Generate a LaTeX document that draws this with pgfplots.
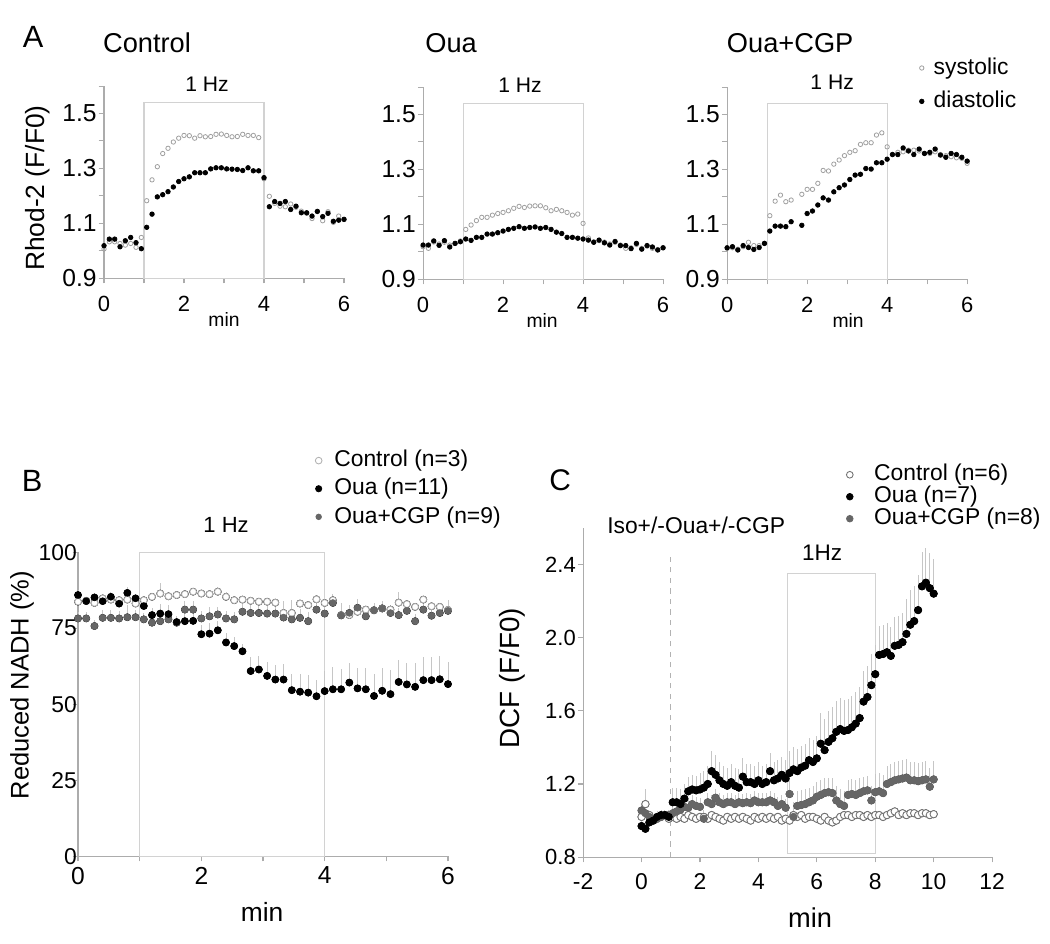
\documentclass[border=0pt]{standalone}
\usepackage{pgfplots}
\pgfplotsset{compat=1.18}
\usepackage{pgfplotstable}
\usepackage{fontspec}
\setmainfont{Liberation Sans}

\newcommand{\fs}[1]{\fontsize{#1}{#1}\selectfont}

% panel A: t, diastolic, systolic
\pgfplotstableread{
t dia sys
0.000 1.018 1.006
0.133 1.042 1.032
0.267 1.042 1.032
0.400 1.014 1.026
0.533 1.036 1.020
0.667 1.048 1.026
0.800 1.029 1.012
0.933 1.007 1.048
1.067 1.085 1.182
1.200 1.133 1.258
1.333 1.196 1.306
1.467 1.204 1.354
1.600 1.215 1.373
1.733 1.232 1.396
1.867 1.252 1.410
2.000 1.262 1.420
2.133 1.269 1.419
2.267 1.284 1.410
2.400 1.284 1.419
2.533 1.284 1.415
2.667 1.298 1.416
2.800 1.302 1.424
2.933 1.302 1.425
3.067 1.298 1.420
3.200 1.297 1.415
3.333 1.296 1.416
3.467 1.292 1.424
3.600 1.302 1.420
3.733 1.291 1.420
3.867 1.291 1.412
4.000 1.266 1.262
4.133 1.160 1.198
4.267 1.179 1.172
4.400 1.172 1.162
4.533 1.179 1.160
4.667 1.150 1.170
4.800 1.162 1.158
4.933 1.138 1.144
5.067 1.138 1.136
5.200 1.126 1.117
5.333 1.143 1.143
5.467 1.124 1.109
5.600 1.136 1.142
5.733 1.107 1.103
5.867 1.111 1.126
6.000 1.114 1.114
}\tabActl

\pgfplotstableread{
t dia sys
0.000 1.024 1.018
0.133 1.024 1.012
0.267 1.039 1.035
0.400 1.023 1.028
0.533 1.040 1.034
0.667 1.017 1.024
0.800 1.030 1.030
0.933 1.036 1.039
1.067 1.046 1.081
1.200 1.041 1.097
1.333 1.052 1.113
1.467 1.052 1.125
1.600 1.064 1.125
1.733 1.064 1.133
1.867 1.069 1.139
2.000 1.075 1.143
2.133 1.081 1.149
2.267 1.085 1.158
2.400 1.091 1.165
2.533 1.085 1.161
2.667 1.088 1.166
2.800 1.090 1.167
2.933 1.085 1.167
3.067 1.088 1.160
3.200 1.081 1.149
3.333 1.071 1.154
3.467 1.066 1.149
3.600 1.052 1.143
3.733 1.052 1.133
3.867 1.049 1.137
4.000 1.046 1.103
4.133 1.042 1.050
4.267 1.034 1.036
4.400 1.042 1.040
4.533 1.032 1.035
4.667 1.024 1.028
4.800 1.037 1.034
4.933 1.022 1.024
5.067 1.022 1.012
5.200 1.011 1.014
5.333 1.030 1.026
5.467 1.009 1.012
5.600 1.022 1.020
5.733 1.017 1.012
5.867 1.006 1.008
6.000 1.014 1.014
}\tabAoua

\pgfplotstableread{
t dia sys
0.000 1.014 1.012
0.133 1.018 1.014
0.267 1.006 1.009
0.400 1.022 1.018
0.533 1.015 1.034
0.667 1.008 1.022
0.800 1.015 1.022
0.933 1.030 1.030
1.067 1.075 1.131
1.200 1.093 1.184
1.333 1.093 1.206
1.467 1.091 1.182
1.600 1.109 1.188
1.867 1.096 1.209
2.000 1.139 1.227
2.133 1.148 1.227
2.267 1.170 1.249
2.400 1.196 1.296
2.533 1.188 1.294
2.667 1.218 1.319
2.800 1.233 1.334
2.933 1.243 1.350
3.067 1.263 1.362
3.200 1.279 1.368
3.333 1.282 1.391
3.467 1.303 1.397
3.600 1.301 1.397
3.733 1.324 1.425
3.867 1.324 1.433
4.000 1.337 1.382
4.133 1.354 1.354
4.267 1.354 1.362
4.400 1.378 1.364
4.533 1.367 1.370
4.667 1.354 1.370
4.800 1.374 1.367
4.933 1.358 1.358
5.067 1.362 1.358
5.200 1.374 1.364
5.333 1.352 1.354
5.467 1.344 1.350
5.600 1.358 1.346
5.733 1.354 1.342
5.867 1.344 1.340
6.000 1.330 1.322
}\tabAcgp

% panel B: reduced NADH (%), mean and upper error
\pgfplotstableread{
t ctl ce oua oe cgp ge
0.000 83.7 1.5 85.9 1.5 78.2 2.2
0.133 84.0 1.0 83.9 1.5 78.2 2.2
0.267 83.3 1.5 85.1 1.5 75.7 2.0
0.400 84.8 1.0 83.9 1.5 78.4 2.5
0.533 84.4 1.0 85.3 1.5 78.4 2.5
0.667 84.2 1.0 83.1 1.5 78.2 2.5
0.800 84.4 1.5 86.6 2.0 78.6 4.0
0.933 83.1 1.5 84.8 1.5 78.6 2.5
1.067 84.2 1.0 82.3 1.5 77.9 2.0
1.200 85.3 1.0 79.3 2.5 76.8 2.5
1.333 86.4 3.3 79.8 3.0 77.3 2.5
1.467 85.5 1.0 79.6 3.0 77.9 2.5
1.600 85.9 1.0 77.0 2.0 76.8 2.0
1.733 86.2 1.0 77.3 2.5 81.1 3.0
1.867 87.0 1.0 77.4 2.5 81.1 3.0
2.000 86.4 1.0 73.0 3.0 78.2 2.5
2.133 86.2 1.0 73.2 3.5 78.9 3.0
2.267 87.0 1.5 74.3 3.0 79.5 2.5
2.400 85.3 1.5 70.3 3.0 78.2 2.5
2.533 84.2 1.0 69.1 3.0 77.9 2.5
2.667 84.4 1.0 67.4 2.5 80.4 2.5
2.800 84.0 1.0 60.9 4.7 80.0 2.5
2.933 83.7 1.0 61.4 4.6 80.0 2.5
3.067 83.7 1.0 59.3 4.6 79.8 2.5
3.200 83.4 1.0 58.1 4.7 79.8 2.5
3.333 80.0 1.0 58.1 5.0 78.5 5.4
3.467 80.0 1.0 54.6 5.2 77.9 6.3
3.600 83.1 1.0 54.1 5.7 78.4 3.0
3.733 82.6 1.0 53.8 5.9 77.3 3.0
3.867 84.5 1.0 52.6 5.5 81.1 2.5
4.000 83.3 1.0 54.3 6.6 79.8 2.5
4.133 84.2 2.0 54.9 7.3 83.3 3.0
4.267 79.3 1.0 54.9 6.8 79.2 4.0
4.400 79.3 1.0 57.1 6.6 80.0 2.5
4.533 80.4 1.0 55.2 6.8 81.7 3.0
4.667 81.1 1.0 54.9 7.0 78.9 2.5
4.800 80.9 1.0 52.7 7.3 80.9 2.5
4.933 81.5 1.0 54.4 7.6 81.5 2.5
5.067 81.1 1.0 53.3 7.9 80.0 2.5
5.200 83.4 3.5 57.3 7.1 79.3 2.5
5.333 82.9 1.5 56.5 7.0 80.7 2.5
5.467 82.0 1.0 55.7 7.7 77.3 2.5
5.600 84.4 1.0 57.9 7.7 81.1 2.5
5.733 82.2 1.0 57.9 7.7 79.1 2.5
5.867 82.0 1.0 58.2 7.7 80.0 2.5
6.000 81.0 1.0 56.6 7.3 80.7 3.5
}\tabB

% panel C: DCF (F/F0), mean and upper error
\pgfplotstableread{
t ctl ce oua oe cgp ge
0.000 1.02 0.02 0.97 0.03 1.055 0.03
0.133 1.09 0.08 0.955 0.03 1.04 0.03
0.267 1.03 0.02 0.99 0.03 1.02 0.03
0.400 1.00 0.02 1.00 0.03 1.00 0.03
0.533 1.01 0.02 1.02 0.03 1.01 0.03
0.667 1.02 0.02 1.03 0.03 1.02 0.03
0.800 1.03 0.02 1.03 0.03 1.03 0.03
0.933 1.01 0.02 1.02 0.03 1.03 0.03
1.067 1.02 0.02 1.10 0.08 1.04 0.05
1.200 1.01 0.02 1.10 0.08 1.05 0.05
1.333 1.02 0.02 1.09 0.08 1.06 0.05
1.467 1.01 0.02 1.12 0.08 1.075 0.05
1.600 1.03 0.02 1.16 0.08 1.07 0.05
1.733 1.02 0.02 1.17 0.08 1.09 0.05
1.867 1.01 0.02 1.165 0.08 1.08 0.05
2.000 1.02 0.02 1.17 0.09 1.075 0.05
2.133 1.02 0.02 1.18 0.09 1.01 0.05
2.267 1.01 0.02 1.20 0.10 1.10 0.05
2.400 1.03 0.02 1.27 0.11 1.09 0.05
2.533 1.02 0.02 1.25 0.11 1.125 0.05
2.667 1.01 0.02 1.22 0.10 1.10 0.05
2.800 1.00 0.02 1.20 0.10 1.09 0.05
2.933 1.02 0.02 1.19 0.10 1.10 0.05
3.067 1.01 0.02 1.21 0.10 1.10 0.05
3.200 1.02 0.02 1.19 0.10 1.09 0.05
3.333 1.01 0.02 1.18 0.10 1.10 0.05
3.467 1.02 0.02 1.24 0.10 1.095 0.05
3.600 1.01 0.02 1.21 0.10 1.10 0.05
3.733 1.00 0.02 1.21 0.10 1.095 0.05
3.867 1.02 0.02 1.20 0.10 1.11 0.05
4.000 1.01 0.02 1.22 0.10 1.10 0.05
4.133 1.02 0.02 1.20 0.10 1.10 0.05
4.267 1.01 0.02 1.21 0.10 1.10 0.05
4.400 1.02 0.02 1.27 0.10 1.11 0.05
4.533 1.01 0.02 1.22 0.10 1.10 0.05
4.667 1.02 0.02 1.23 0.10 1.08 0.05
4.800 1.00 0.02 1.25 0.10 1.09 0.05
4.933 1.01 0.02 1.23 0.10 1.07 0.05
5.067 1.00 0.02 1.26 0.12 1.145 0.08
5.200 1.03 0.02 1.28 0.12 1.02 0.08
5.333 1.02 0.02 1.27 0.12 1.08 0.08
5.467 1.03 0.02 1.29 0.12 1.085 0.08
5.600 1.01 0.02 1.30 0.12 1.09 0.08
5.733 1.02 0.02 1.33 0.12 1.10 0.08
5.867 1.02 0.02 1.32 0.12 1.11 0.08
6.000 1.01 0.02 1.34 0.12 1.13 0.08
6.133 1.00 0.02 1.42 0.17 1.14 0.08
6.267 1.02 0.02 1.385 0.17 1.15 0.08
6.400 1.00 0.02 1.43 0.17 1.155 0.08
6.533 0.99 0.02 1.45 0.17 1.15 0.08
6.667 1.00 0.02 1.485 0.17 1.11 0.08
6.800 1.02 0.02 1.50 0.17 1.09 0.08
6.933 1.03 0.02 1.49 0.17 1.08 0.08
7.067 1.03 0.02 1.495 0.17 1.14 0.08
7.200 1.02 0.02 1.51 0.17 1.145 0.08
7.333 1.03 0.02 1.53 0.17 1.14 0.08
7.467 1.03 0.02 1.56 0.17 1.15 0.08
7.600 1.02 0.02 1.65 0.17 1.16 0.08
7.733 1.03 0.02 1.675 0.17 1.165 0.08
7.867 1.02 0.02 1.74 0.17 1.11 0.08
8.000 1.03 0.02 1.80 0.16 1.155 0.10
8.133 1.03 0.02 1.905 0.16 1.16 0.10
8.267 1.02 0.02 1.91 0.16 1.15 0.10
8.400 1.03 0.02 1.92 0.16 1.20 0.10
8.533 1.04 0.02 1.90 0.16 1.21 0.10
8.667 1.05 0.02 1.955 0.16 1.22 0.10
8.800 1.03 0.02 1.96 0.16 1.225 0.10
8.933 1.04 0.02 1.975 0.16 1.23 0.10
9.067 1.03 0.02 2.02 0.19 1.235 0.10
9.200 1.04 0.02 2.07 0.19 1.22 0.10
9.333 1.04 0.02 2.09 0.19 1.22 0.10
9.467 1.03 0.02 2.15 0.19 1.215 0.10
9.600 1.04 0.02 2.28 0.19 1.22 0.10
9.733 1.04 0.02 2.30 0.19 1.225 0.10
9.867 1.03 0.02 2.27 0.19 1.185 0.10
10.000 1.035 0.02 2.24 0.19 1.225 0.10
}\tabC

\tikzset{hzbox/.style={draw=gray!35, line width=0.6pt}}

\pgfplotsset{
  panel/.style={
    scale only axis, clip=false,
    axis lines=left,
    axis line style={-, draw=gray!65, line width=0.6pt},
    tick style={draw=gray!65, line width=0.6pt},
    tick align=outside,
    major tick length=3pt, minor tick length=3pt,
    /pgf/number format/assume math mode=true,
    legend cell align=left,
    legend image code/.code={\draw[mark repeat=2,mark phase=2,##1] plot coordinates {(0cm,0cm) (0.1cm,0cm) (0.2cm,0cm)};},
  },
  panelA/.style={panel, width=4.8cm, height=3.84cm,
    xmin=0, xmax=6, ymin=0.9, ymax=1.6,
    xtick={0,2,4,6}, minor xtick={1,3,5},
    ytick={0.9,1.1,1.3,1.5}, minor ytick={1.0,1.2,1.4,1.6},
    yticklabel style={font=\fs{14}, inner sep=1pt,
      /pgf/number format/fixed, /pgf/number format/fixed zerofill,
      /pgf/number format/precision=1},
    xticklabel style={font=\fs{12.5}, inner sep=1pt, yshift=-6pt},
  },
  errbar/.style={forget plot, only marks, mark=none,
    error bars/.cd, y dir=plus, y explicit, error mark=none,
    error bar style={draw=gray!45, line width=0.5pt}},
  diaA/.style={only marks, mark=*, mark size=1.3pt, mark options={draw=black, fill=black}},
  sysA/.style={only marks, mark=o, mark size=1.25pt, mark options={draw=gray!75, line width=0.45pt}},
}

\begin{document}
\begin{tikzpicture}
\useasboundingbox (0,0) rectangle (21,-18.88);
\begin{scope}[x=0.02cm, y=-0.02cm]
  \coordinate (a1) at (104,278);
  \coordinate (a2) at (423,279);
  \coordinate (a3) at (727,279);
  \coordinate (b) at (78,856);
  \coordinate (c) at (583,857);
\end{scope}

% ---- A: Control
\begin{axis}[panelA, at={(a1)}, anchor=south west]
  \draw[hzbox] (axis cs:1,0.9) rectangle (axis cs:4,1.54);
  \addplot[sysA] table[x=t, y=sys] {\tabActl};
  \addplot[diaA] table[x=t, y=dia] {\tabActl};
\end{axis}

% ---- A: Oua
\begin{axis}[panelA, at={(a2)}, anchor=south west]
  \draw[hzbox] (axis cs:1,0.9) rectangle (axis cs:4,1.54);
  \addplot[sysA] table[x=t, y=sys] {\tabAoua};
  \addplot[diaA] table[x=t, y=dia] {\tabAoua};
\end{axis}

% ---- A: Oua+CGP
\begin{axis}[panelA, at={(a3)}, anchor=south west,
  legend style={at={(axis description cs:0.8,1.156)}, anchor=north west,
    draw=none, fill=none, font=\fs{13}, inner sep=0pt, row sep=7pt, column sep=5.5pt,
    nodes={inner sep=0pt, text height=9.5pt, text depth=2.5pt}}]
  \draw[hzbox] (axis cs:1,0.9) rectangle (axis cs:4,1.54);
  \addplot[sysA] table[x=t, y=sys] {\tabAcgp};
  \addlegendentry{systolic}
  \addplot[diaA] table[x=t, y=dia] {\tabAcgp};
  \addlegendentry{diastolic}
\end{axis}

% ---- B: reduced NADH
\begin{axis}[panel, at={(b)}, anchor=south west, width=7.4cm, height=6.08cm,
  xmin=0, xmax=6, ymin=0, ymax=100,
  xtick={0,2,4,6}, minor xtick={1,3,5},
  ytick={0,25,50,75,100},
  yticklabel style={font=\fs{13}, inner sep=0pt, xshift=2.5pt},
  xticklabel style={font=\fs{14}, inner sep=1pt, yshift=-2pt},
  legend style={at={(axis description cs:0.6405,1.337)}, anchor=north west,
    draw=none, fill=none, font=\fs{13}, inner sep=0pt, row sep=4pt, column sep=7pt,
    nodes={inner sep=0pt, text height=9.5pt, text depth=2.5pt}}]
  \draw[hzbox] (axis cs:1,0) rectangle (axis cs:4,100);
  \addplot[errbar] table[x=t, y=ctl, y error=ce] {\tabB};
  \addplot[errbar] table[x=t, y=cgp, y error=ge] {\tabB};
  \addplot[errbar] table[x=t, y=oua, y error=oe] {\tabB};
  \addlegendimage{only marks, mark=*, mark size=1.9pt, mark options={draw=gray!60, fill=white, line width=0.5pt}}
  \addlegendentry{Control (n=3)}
  \addlegendimage{only marks, mark=*, mark size=1.8pt, mark options={draw=black, fill=black}}
  \addlegendentry{Oua (n=11)}
  \addlegendimage{only marks, mark=*, mark size=1.6pt, mark options={draw=black!60, fill=black!60}}
  \addlegendentry{Oua+CGP (n=9)}
  \addplot[forget plot, only marks, mark=*, mark size=1.9pt, mark options={draw=gray!60, fill=white, line width=0.5pt}] table[x=t, y=ctl] {\tabB};
  \addplot[forget plot, only marks, mark=*, mark size=1.9pt, mark options={draw=black!60, fill=black!60}] table[x=t, y=cgp] {\tabB};
  \addplot[forget plot, only marks, mark=*, mark size=1.9pt, mark options={draw=black, fill=black}] table[x=t, y=oua] {\tabB};
\end{axis}

% ---- C: DCF
\begin{axis}[panel, at={(c)}, anchor=south west, width=8.18cm, height=6.588cm,
  xmin=-2, xmax=12, ymin=0.8, ymax=2.6,
  xtick={-2,0,2,4,6,8,10,12},
  ytick={0.8,1.2,1.6,2.0,2.4},
  yticklabel style={font=\fs{12.5}, inner sep=1pt,
    /pgf/number format/fixed, /pgf/number format/fixed zerofill,
    /pgf/number format/precision=1},
  xticklabel style={font=\fs{13}, inner sep=1pt, yshift=-5pt},
  legend style={at={(axis description cs:0.643,1.194)}, anchor=north west,
    draw=none, fill=none, font=\fs{13}, inner sep=0pt, row sep=0.5pt, column sep=12pt,
    nodes={inner sep=0pt, text height=9.5pt, text depth=2.5pt}}]
  \draw[hzbox] (axis cs:5,0.82) rectangle (axis cs:8,2.35);
  \draw[gray!60, dashed, line width=0.6pt] (axis cs:1,0.8) -- (axis cs:1,2.45);
  \addplot[errbar] table[x=t, y=ctl, y error=ce] {\tabC};
  \addplot[errbar] table[x=t, y=cgp, y error=ge] {\tabC};
  \addplot[errbar] table[x=t, y=oua, y error=oe] {\tabC};
  \addlegendimage{only marks, mark=*, mark size=1.9pt, mark options={draw=black!55, fill=white, line width=0.5pt}}
  \addlegendentry{Control (n=6)}
  \addlegendimage{only marks, mark=*, mark size=1.9pt, mark options={draw=black, fill=black}}
  \addlegendentry{Oua (n=7)}
  \addlegendimage{only marks, mark=*, mark size=1.9pt, mark options={draw=black!60, fill=black!60}}
  \addlegendentry{Oua+CGP (n=8)}
  \addplot[forget plot, only marks, mark=*, mark size=2.1pt, mark options={draw=black!55, fill=white, line width=0.5pt}] table[x=t, y=ctl] {\tabC};
  \addplot[forget plot, only marks, mark=*, mark size=2.1pt, mark options={draw=black!60, fill=black!60}] table[x=t, y=cgp] {\tabC};
  \addplot[forget plot, only marks, mark=*, mark size=2.1pt, mark options={draw=black, fill=black}] table[x=t, y=oua] {\tabC};
\end{axis}

% ---- text
\begin{scope}[x=0.02cm, y=-0.02cm]
  \node[font=\fs{17.5}] at (33,37) {A};
  \node[font=\fs{15.5}] at (147,43) {Control};
  \node[font=\fs{15.5}] at (451,43) {Oua};
  \node[font=\fs{15.5}] at (790,43) {Oua+CGP};
  \node[font=\fs{12}] at (207,84) {1 Hz};
  \node[font=\fs{12}] at (520,85) {1 Hz};
  \node[font=\fs{12}] at (832,82) {1 Hz};
  \node[font=\fs{15}, rotate=90] at (38,188) {Rhod-2 (F/F0)};
  \node[font=\fs{11}] at (224,319) {min};
  \node[font=\fs{11}] at (542,320) {min};
  \node[font=\fs{11}] at (848,320) {min};

  \node[font=\fs{17.5}] at (32,481) {B};
  \node[font=\fs{12.5}] at (226,525) {1 Hz};
  \node[font=\fs{14.5}, rotate=90] at (22,685) {Reduced NADH (\%)};
  \node[font=\fs{15}] at (262,912) {min};

  \node[font=\fs{17}] at (560,480) {C};
  \node[font=\fs{13}] at (696,525) {Iso+/-Oua+/-CGP};
  \node[font=\fs{12.8}] at (822,553) {1Hz};
  \node[font=\fs{15.8}, rotate=90] at (512,678) {DCF (F/F0)};
  \node[font=\fs{15.5}] at (810,917) {min};
\end{scope}
\end{tikzpicture}
\end{document}
